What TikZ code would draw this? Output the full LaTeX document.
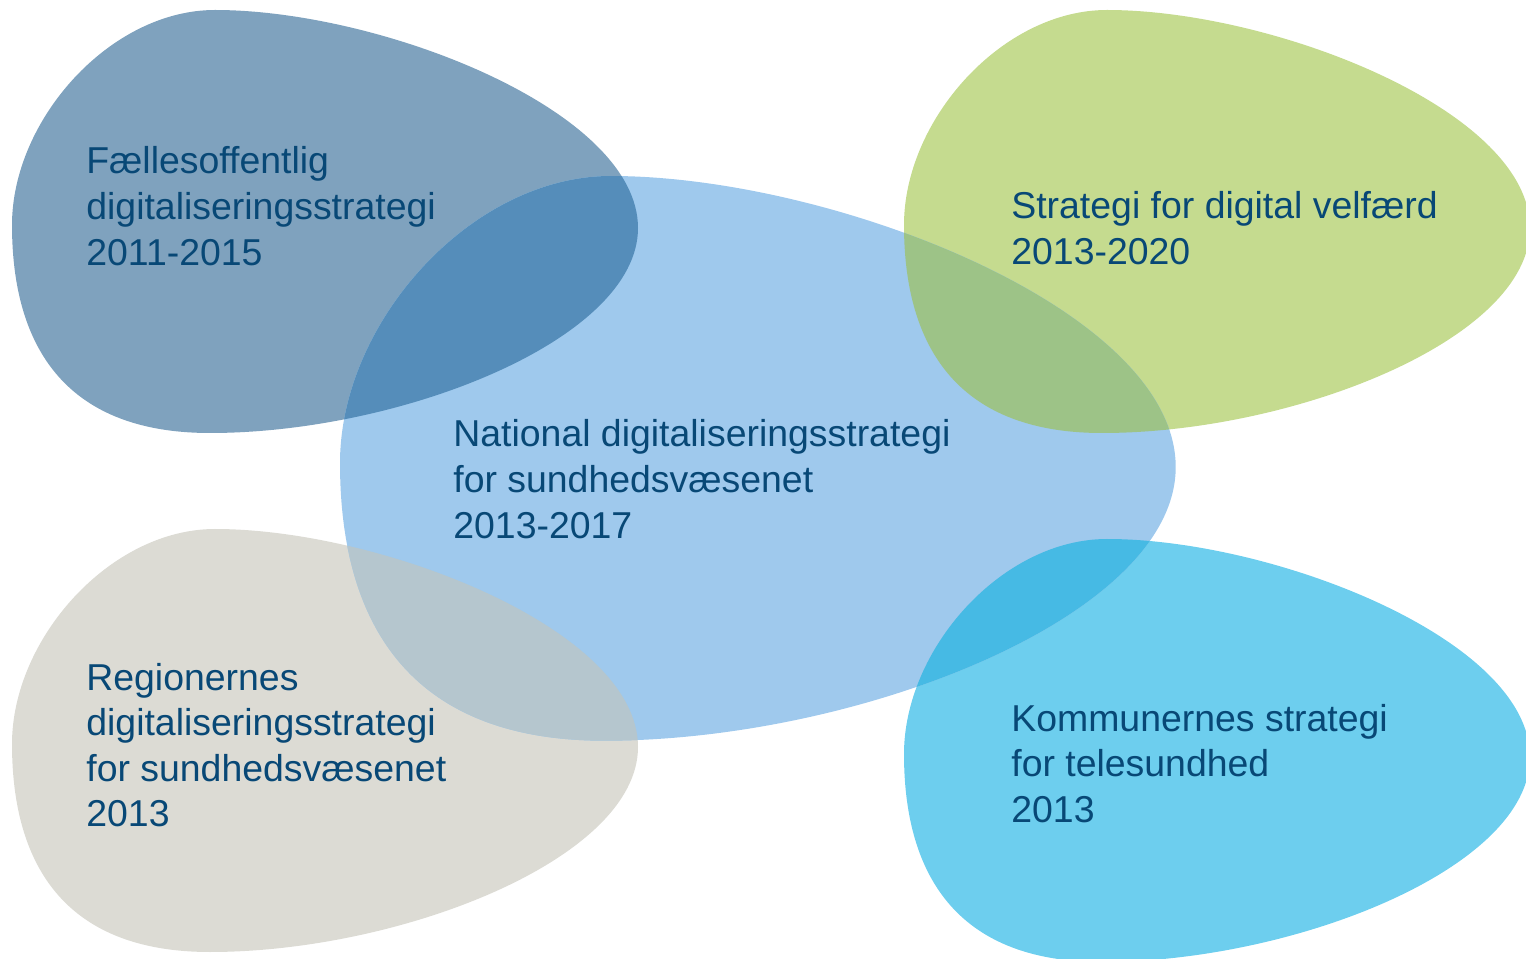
\documentclass[tikz,border=0pt]{standalone}
\usepackage{fontspec}
\setmainfont{Liberation Sans}
\definecolor{tlcol}{RGB}{127,162,190}
\definecolor{tlov}{RGB}{85,141,186}
\definecolor{ccol}{RGB}{159,201,237}
\definecolor{gcol}{RGB}{197,219,143}
\definecolor{gov}{RGB}{157,195,135}
\definecolor{graycol}{RGB}{220,219,212}
\definecolor{grayov}{RGB}{181,198,206}
\definecolor{cycol}{RGB}{109,206,238}
\definecolor{cyov}{RGB}{70,186,228}
\definecolor{txt}{RGB}{8,72,118}
\newcommand{\blobpath}{(203,0) .. controls (368,0) and (626,100) .. (626,218) .. controls (626,330) and (388,423) .. (198,423) .. controls (48,423) and (0,330) .. (0,215) .. controls (0,110) and (98,0) .. (203,0) -- cycle}
\tikzset{
  lbl/.style={anchor=base west, inner sep=0pt, text=txt, font=\fontsize{21.3}{25.9}\selectfont},
  tlpos/.style={shift={(12,10)}},
  grpos/.style={shift={(904,10)}},
  gypos/.style={shift={(12,529)}},
  cypos/.style={shift={(904,539)}},
  cpos/.style={shift={(340,176)}, scale=1.335}
}
\begin{document}
\begin{tikzpicture}[x=0.02cm, y=-0.02cm]
\path[use as bounding box] (0,0) rectangle (1526,959);
\clip (0,0) rectangle (1526,959);
% blobs
\fill[tlcol, tlpos] \blobpath;
\fill[gcol, grpos] \blobpath;
\fill[graycol, gypos] \blobpath;
\fill[cycol, cypos] \blobpath;
\fill[ccol, cpos] \blobpath;
% overlaps
\begin{scope}
  \clip[cpos] \blobpath;
  \fill[tlov, tlpos] \blobpath;
  \fill[gov, grpos] \blobpath;
  \fill[grayov, gypos] \blobpath;
  \fill[cyov, cypos] \blobpath;
\end{scope}
% labels
\node[lbl] (tl) at (86,174) {\begin{tabular}[t]{@{}l@{}}Fællesoffentlig\\digitaliseringsstrategi\\2011-2015\end{tabular}};
\node[lbl] (gr) at (1011,219) {\begin{tabular}[t]{@{}l@{}}Strategi for digital velfærd\\2013-2020\end{tabular}};
\node[lbl] (ce) at (453,447) {\begin{tabular}[t]{@{}l@{}}National digitaliseringsstrategi\\for sundhedsvæsenet\\2013-2017\end{tabular}};
\node[lbl] (gy) at (86,690) {\begin{tabular}[t]{@{}l@{}}Regionernes\\digitaliseringsstrategi\\for sundhedsvæsenet\\2013\end{tabular}};
\node[lbl] (cy) at (1011,731) {\begin{tabular}[t]{@{}l@{}}Kommunernes strategi\\for telesundhed\\2013\end{tabular}};
\end{tikzpicture}
\end{document}
